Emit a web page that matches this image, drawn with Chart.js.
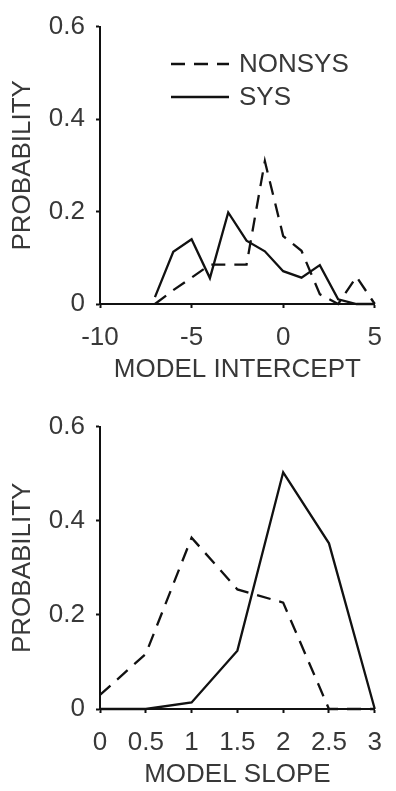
<!DOCTYPE html>
<html>
<head>
<meta charset="utf-8">
<script src="https://cdn.jsdelivr.net/npm/chart.js@4"></script>
<style>
  body { margin: 0; background: #fff; }
  canvas { display: block; }
</style>
</head>
<body>
<canvas id="intercept" width="396" height="400"></canvas>
<canvas id="slope" width="396" height="391"></canvas>
<script>
// intercept distributions
const interceptX = [-7, -6, -5, -4, -3, -2, -1, 0, 1, 2, 3, 4, 5];
const interceptNonsys = [0, 0.03, 0.057, 0.085, 0.085, 0.085, 0.309, 0.147, 0.115, 0.021, 0, 0.059, 0];
const interceptSys = [0.015, 0.113, 0.14, 0.056, 0.198, 0.137, 0.114, 0.071, 0.057, 0.084, 0.01, 0, 0];
const interceptTicks = [-10, -5, 0, 5];

// slope distributions
const slopeX = [0, 0.5, 1, 1.5, 2, 2.5, 3];
const slopeNonsys = [0.03, 0.117, 0.364, 0.254, 0.226, 0, 0];
const slopeSys = [0, 0, 0.014, 0.124, 0.503, 0.352, 0];
const slopeTicks = [0, 0.5, 1, 1.5, 2, 2.5, 3];

const probTicks = [0, 0.2, 0.4, 0.6];
const seriesNames = ["NONSYS", "SYS"];

const lineColor = "#111";
const textColor = "#383838";
const font = { family: '"Liberation Sans", Arial, sans-serif', size: 26 };

// legend drawn inside the plot area
const insetLegend = {
    id: "insetLegend",
    afterDatasetsDraw(chart, args, opts) {
        const ctx = chart.ctx;
        ctx.save();
        ctx.font = font.size + "px " + font.family;
        ctx.textBaseline = "middle";
        chart.data.datasets.forEach((ds, i) => {
            const y = opts.y + i * opts.rowGap;
            ctx.strokeStyle = ds.borderColor;
            ctx.lineWidth = ds.borderWidth;
            ctx.setLineDash(ds.borderDash || []);
            ctx.beginPath();
            ctx.moveTo(opts.x, y);
            ctx.lineTo(opts.x + opts.lineLen, y);
            ctx.stroke();
            ctx.fillStyle = textColor;
            ctx.fillText(ds.label, opts.x + opts.lineLen + opts.gap, y + 1);
        });
        ctx.restore();
    }
};

function points(xs, ys) {
    return xs.map((x, i) => ({ x: x, y: ys[i] }));
}

function makeChart(id, xs, nonsys, sys, xTicks, xTitle, pad, xBoxHeight, titlePad, legend) {
    return new Chart(document.getElementById(id), {
        type: "line",
        data: {
            datasets: [
                {
                    label: seriesNames[0],
                    data: points(xs, nonsys),
                    borderColor: lineColor,
                    borderWidth: 2.3,
                    borderDash: [14, 9],
                    pointRadius: 0,
                    tension: 0,
                    clip: false
                },
                {
                    label: seriesNames[1],
                    data: points(xs, sys),
                    borderColor: lineColor,
                    borderWidth: 2.3,
                    pointRadius: 0,
                    tension: 0,
                    clip: false
                }
            ]
        },
        options: {
            responsive: false,
            animation: false,
            devicePixelRatio: 1,
            layout: { padding: pad },
            plugins: {
                legend: { display: false },
                tooltip: { enabled: false },
                insetLegend: legend
            },
            scales: {
                x: {
                    type: "linear",
                    min: xTicks[0],
                    max: xTicks[xTicks.length - 1],
                    afterBuildTicks: s => { s.ticks = xTicks.map(v => ({ value: v })); },
                    afterFit: s => { s.height = xBoxHeight; },
                    border: { color: lineColor, width: 2 },
                    grid: { drawOnChartArea: false, drawTicks: true, tickLength: 4, tickWidth: 2, tickColor: lineColor },
                    ticks: { padding: 14, color: textColor, font: font, maxRotation: 0, autoSkip: false, callback: v => String(v) },
                    title: { display: true, text: xTitle, color: textColor, font: font, padding: { top: 0, bottom: titlePad } }
                },
                y: {
                    min: probTicks[0],
                    max: probTicks[probTicks.length - 1],
                    afterBuildTicks: s => { s.ticks = probTicks.map(v => ({ value: v })); },
                    afterFit: s => { s.width = 100; },
                    border: { color: lineColor, width: 2 },
                    grid: { drawOnChartArea: false, drawTicks: true, tickLength: 4, tickWidth: 2, tickColor: lineColor },
                    ticks: { padding: 11, color: textColor, font: font, callback: v => String(v) },
                    title: { display: true, text: "PROBABILITY", color: textColor, font: font, padding: { top: 7, bottom: 0 } }
                }
            }
        },
        plugins: legend ? [insetLegend] : []
    });
}

makeChart("intercept", interceptX, interceptNonsys, interceptSys, interceptTicks,
    "MODEL INTERCEPT", { top: 19, right: 10, left: 0, bottom: 0 }, 96, 15,
    { x: 171, y: 64, rowGap: 33, lineLen: 58, gap: 10 });

makeChart("slope", slopeX, slopeNonsys, slopeSys, slopeTicks,
    "MODEL SLOPE", { top: 24, right: 11, left: 0, bottom: 0 }, 82, 1, null);
</script>
</body>
</html>
